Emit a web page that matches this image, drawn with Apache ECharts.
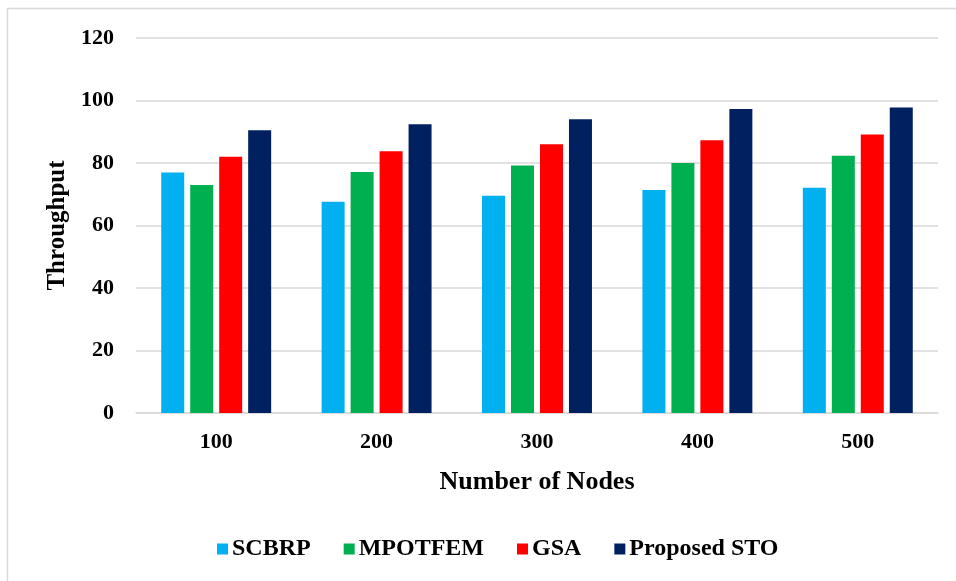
<!DOCTYPE html>
<html>
<head>
<meta charset="utf-8">
<script src="https://cdn.jsdelivr.net/npm/echarts@6/dist/echarts.min.js"></script>
<style>
  html, body { margin: 0; padding: 0; background: #fff; }
  #chart { width: 956px; height: 581px; }
</style>
</head>
<body>
<div id="chart"></div>
<script>
// Throughput per node count for each routing scheme
const categories = ['100', '200', '300', '400', '500'];
const scbrp = [77, 67.6, 69.5, 71.4, 72.1];
const mpotfem = [73, 77.1, 79.2, 80, 82.3];
const gsa = [82, 83.8, 86, 87.3, 89.1];
const proposedSto = [90.5, 92.4, 94, 97.3, 97.8];
const yTicks = [0, 20, 40, 60, 80, 100, 120];

const seriesDefs = [
  { name: 'SCBRP', data: scbrp, color: '#00B0F0' },
  { name: 'MPOTFEM', data: mpotfem, color: '#00B050' },
  { name: 'GSA', data: gsa, color: '#FF0000' },
  { name: 'Proposed STO', data: proposedSto, color: '#002060' }
];

const font = '"Liberation Serif", "Times New Roman", serif';
const chart = echarts.init(document.getElementById('chart'));

chart.setOption({
  backgroundColor: '#ffffff',
  animation: false,
  graphic: [{
    type: 'rect',
    shape: { x: 7.5, y: 8.5, width: 1000, height: 1000 },
    style: { fill: 'none', stroke: '#d9d9d9', lineWidth: 1.5 },
    silent: true
  }],
  grid: { left: 136, right: 18, top: 38, bottom: 168 },
  legend: {
    bottom: 15,
    left: 212,
    itemWidth: 11,
    itemHeight: 11,
    itemGap: 33,
    icon: 'rect',
    textStyle: { fontFamily: font, fontWeight: 'bold', fontSize: 24, color: '#000', padding: [0, 0, 0, -1] },
    data: seriesDefs.map(s => s.name)
  },
  xAxis: {
    type: 'category',
    data: categories,
    name: 'Number of Nodes',
    nameLocation: 'middle',
    nameGap: 56,
    nameTextStyle: { fontFamily: font, fontWeight: 'bold', fontSize: 26, color: '#000' },
    axisLine: { show: true, lineStyle: { color: '#d9d9d9', width: 1.5 } },
    axisTick: { show: false },
    axisLabel: { fontFamily: font, fontWeight: 'bold', fontSize: 22, color: '#000', margin: 18 },
    splitLine: { show: false }
  },
  yAxis: {
    type: 'value',
    min: yTicks[0],
    max: yTicks[yTicks.length - 1],
    interval: 20,
    name: 'Throughput',
    nameLocation: 'middle',
    nameGap: 65,
    nameTextStyle: { fontFamily: font, fontWeight: 'bold', fontSize: 25, color: '#000' },
    axisLine: { show: false },
    axisTick: { show: false },
    axisLabel: { fontFamily: font, fontWeight: 'bold', fontSize: 22, color: '#000', margin: 22 },
    splitLine: { lineStyle: { color: '#d9d9d9', width: 1.5 } }
  },
  series: seriesDefs.map(s => ({
    name: s.name,
    type: 'bar',
    data: s.data,
    barWidth: 23,
    barGap: '26%',
    itemStyle: { color: s.color }
  }))
});
</script>
</body>
</html>
